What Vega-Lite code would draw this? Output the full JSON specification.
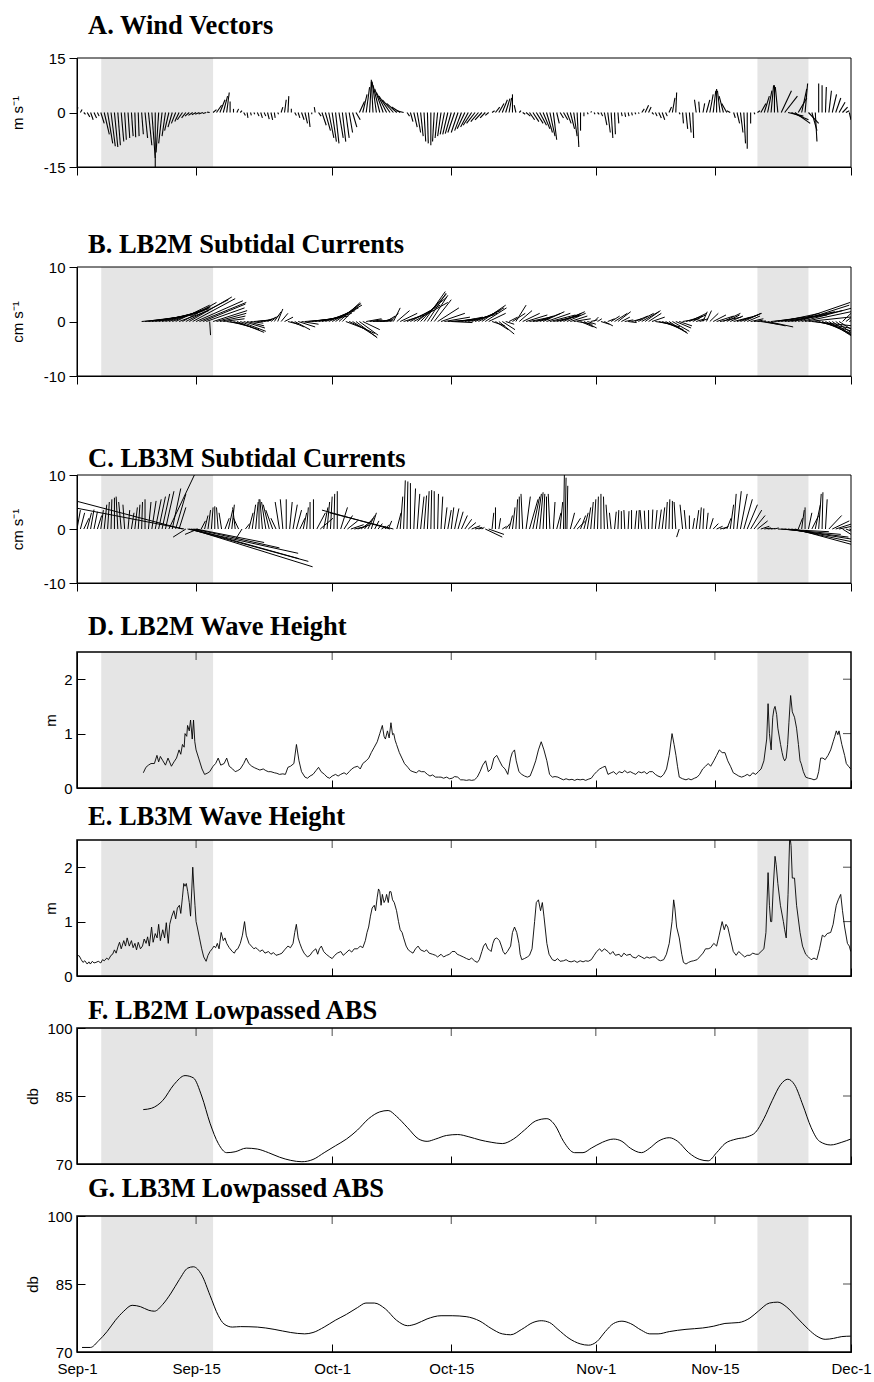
{
"$schema": "https://vega.github.io/schema/vega-lite/v6.json",
"autosize": {"type": "pad"},
"padding": {"left": 10, "top": 12, "right": 3, "bottom": 3},
"bounds": "flush",
"spacing": 52,
"config": {
 "view": {"stroke": null},
 "axis": {"domainColor": "black", "tickColor": "black", "labelColor": "black", "titleColor": "black", "labelFont": "Liberation Sans", "titleFont": "Liberation Sans", "labelFontSize": 15, "titleFontSize": 15, "titleFontWeight": "normal", "grid": false, "domainWidth": 1, "tickWidth": 1, "labelFlush": false, "labelOverlap": false},
 "title": {"font": "Liberation Serif", "fontSize": 26.5, "fontWeight": "bold", "anchor": "start", "color": "black", "frame": "group", "baseline": "alphabetic"},
 "tick": {"thickness": 1}
},
"datasets": {
 "bandA": [{"s": 2.85, "e": 16.0, "lo": -15, "hi": 15}, {"s": 80.0, "e": 86.0, "lo": -15, "hi": 15}],
 "frameA": [{"s": 0, "e": 91, "lo": -15, "hi": 15}],
 "bandC": [{"s": 2.85, "e": 16.0, "lo": -10, "hi": 10}, {"s": 80.0, "e": 86.0, "lo": -10, "hi": 10}],
 "frameC": [{"s": 0, "e": 91, "lo": -10, "hi": 10}],
 "bandW": [{"s": 2.85, "e": 16.0, "lo": 0, "hi": 2.5}, {"s": 80.0, "e": 86.0, "lo": 0, "hi": 2.5}],
 "frameW": [{"s": 0, "e": 91, "lo": 0, "hi": 2.5}],
 "bandS": [{"s": 2.85, "e": 16.0, "lo": 70, "hi": 100}, {"s": 80.0, "e": 86.0, "lo": 70, "hi": 100}],
 "frameS": [{"s": 0, "e": 91, "lo": 70, "hi": 100}],
 "topW": [{"t": 14, "y": 2.5}, {"t": 30, "y": 2.5}, {"t": 44, "y": 2.5}, {"t": 61, "y": 2.5}, {"t": 75, "y": 2.5}],
 "topS": [{"t": 14, "y": 100}, {"t": 30, "y": 100}, {"t": 44, "y": 100}, {"t": 61, "y": 100}, {"t": 75, "y": 100}],
 "rightW": [{"t": 91, "y": 1}, {"t": 91, "y": 2}],
 "rightS": [{"t": 91, "y": 85}],
 "wind": [
{"d":0.0,"e":0.1,"v":1.5},{"d":0.4,"e":0.6,"v":0.8},{"d":0.8,"e":1.0,"v":-0.5},{"d":1.2,"e":1.5,"v":-1.2},{"d":1.6,"e":1.9,"v":-2.0},{"d":2.0,"e":2.3,"v":-1.5},{"d":2.4,"e":2.6,"v":-1.0},{"d":2.8,"e":3.2,"v":-3.0},{"d":3.2,"e":3.8,"v":-6.0},{"d":3.6,"e":4.2,"v":-8.5},{"d":4.0,"e":4.5,"v":-9.3},{"d":4.4,"e":4.8,"v":-9.5},{"d":4.8,"e":5.1,"v":-9.0},{"d":5.2,"e":5.5,"v":-8.0},{"d":5.6,"e":5.8,"v":-7.5},{"d":6.0,"e":6.2,"v":-7.0},{"d":6.4,"e":6.6,"v":-6.5},{"d":6.8,"e":6.9,"v":-6.8},{"d":7.2,"e":7.3,"v":-6.5},{"d":7.6,"e":7.8,"v":-6.0},{"d":8.0,"e":8.3,"v":-7.0},{"d":8.4,"e":8.8,"v":-9.0},{"d":8.8,"e":9.2,"v":-12.5},{"d":9.2,"e":9.2,"v":-15.0},{"d":9.6,"e":9.3,"v":-11.0},{"d":10.0,"e":9.6,"v":-8.5},{"d":10.4,"e":10.0,"v":-6.5},{"d":10.8,"e":10.3,"v":-5.0},{"d":11.2,"e":10.7,"v":-4.0},{"d":11.6,"e":11.1,"v":-3.0},{"d":12.0,"e":11.5,"v":-2.5},{"d":12.4,"e":11.8,"v":-2.0},{"d":12.8,"e":12.3,"v":-1.5},{"d":13.2,"e":12.7,"v":-1.0},{"d":13.6,"e":13.1,"v":-0.8},{"d":14.0,"e":13.5,"v":-0.6},{"d":14.4,"e":13.9,"v":-0.5},{"d":14.8,"e":14.3,"v":-0.4},{"d":15.2,"e":14.8,"v":-0.3},{"d":15.6,"e":15.3,"v":0.1},{"d":16.0,"e":16.4,"v":0.8},{"d":16.4,"e":17.0,"v":2.0},{"d":16.8,"e":17.4,"v":3.5},{"d":17.2,"e":17.7,"v":4.5},{"d":17.6,"e":17.9,"v":5.5},{"d":18.0,"e":18.0,"v":3.0},{"d":18.4,"e":18.4,"v":1.0},{"d":18.8,"e":19.0,"v":1.0},{"d":19.2,"e":19.4,"v":0.5},{"d":19.6,"e":19.8,"v":-0.8},{"d":20.0,"e":20.1,"v":-1.5},{"d":20.4,"e":20.5,"v":-0.8},{"d":20.8,"e":20.9,"v":-0.5},{"d":21.2,"e":21.4,"v":-1.0},{"d":21.6,"e":21.8,"v":-1.5},{"d":22.0,"e":22.2,"v":-1.0},{"d":22.4,"e":22.6,"v":-1.8},{"d":22.8,"e":23.0,"v":-2.0},{"d":23.2,"e":23.3,"v":-1.5},{"d":23.6,"e":23.7,"v":-0.5},{"d":24.0,"e":24.2,"v":1.5},{"d":24.4,"e":24.6,"v":3.5},{"d":24.8,"e":24.9,"v":4.5},{"d":25.2,"e":25.2,"v":1.0},{"d":25.6,"e":25.8,"v":-0.8},{"d":26.0,"e":26.2,"v":-1.5},{"d":26.4,"e":26.7,"v":-2.0},{"d":26.8,"e":27.1,"v":-3.0},{"d":27.2,"e":27.4,"v":-4.0},{"d":27.6,"e":27.6,"v":-0.5},{"d":28.0,"e":27.9,"v":1.5},{"d":28.4,"e":28.7,"v":-1.0},{"d":28.8,"e":29.3,"v":-3.5},{"d":29.2,"e":29.8,"v":-5.0},{"d":29.6,"e":30.2,"v":-7.0},{"d":30.0,"e":30.5,"v":-8.0},{"d":30.4,"e":30.8,"v":-8.5},{"d":30.8,"e":31.3,"v":-7.0},{"d":31.2,"e":31.6,"v":-8.0},{"d":31.6,"e":32.0,"v":-7.0},{"d":32.0,"e":32.4,"v":-5.5},{"d":32.4,"e":32.9,"v":-4.0},{"d":32.8,"e":33.3,"v":-2.0},{"d":33.2,"e":33.8,"v":3.0},{"d":33.6,"e":34.1,"v":5.0},{"d":34.0,"e":34.4,"v":7.0},{"d":34.4,"e":34.6,"v":8.5},{"d":34.8,"e":34.6,"v":9.0},{"d":35.2,"e":34.7,"v":8.5},{"d":35.6,"e":34.8,"v":7.5},{"d":36.0,"e":35.0,"v":6.5},{"d":36.4,"e":35.2,"v":5.5},{"d":36.8,"e":35.5,"v":4.5},{"d":37.2,"e":35.9,"v":3.5},{"d":37.6,"e":36.4,"v":2.5},{"d":38.0,"e":37.0,"v":1.5},{"d":38.4,"e":37.6,"v":0.5},{"d":38.8,"e":39.1,"v":-1.0},{"d":39.2,"e":39.5,"v":-2.5},{"d":39.6,"e":40.0,"v":-4.0},{"d":40.0,"e":40.4,"v":-5.5},{"d":40.4,"e":40.7,"v":-6.5},{"d":40.8,"e":41.0,"v":-8.0},{"d":41.2,"e":41.3,"v":-8.5},{"d":41.6,"e":41.6,"v":-9.0},{"d":42.0,"e":41.8,"v":-8.0},{"d":42.4,"e":42.1,"v":-7.0},{"d":42.8,"e":42.4,"v":-6.5},{"d":43.2,"e":42.7,"v":-6.0},{"d":43.6,"e":43.0,"v":-6.0},{"d":44.0,"e":43.3,"v":-5.8},{"d":44.4,"e":43.6,"v":-5.5},{"d":44.8,"e":44.0,"v":-5.5},{"d":45.2,"e":44.4,"v":-5.0},{"d":45.6,"e":44.7,"v":-4.5},{"d":46.0,"e":45.1,"v":-4.0},{"d":46.4,"e":45.4,"v":-3.5},{"d":46.8,"e":45.8,"v":-3.0},{"d":47.2,"e":46.3,"v":-2.5},{"d":47.6,"e":46.8,"v":-2.0},{"d":48.0,"e":47.4,"v":-1.5},{"d":48.4,"e":48.0,"v":-0.8},{"d":48.8,"e":49.1,"v":0.5},{"d":49.2,"e":49.7,"v":1.5},{"d":49.6,"e":50.2,"v":2.5},{"d":50.0,"e":50.6,"v":3.5},{"d":50.4,"e":50.9,"v":3.8},{"d":50.8,"e":51.1,"v":4.0},{"d":51.2,"e":51.2,"v":5.0},{"d":51.6,"e":51.4,"v":2.0},{"d":52.0,"e":52.2,"v":0.5},{"d":52.4,"e":52.7,"v":-0.5},{"d":52.8,"e":53.3,"v":-1.0},{"d":53.2,"e":53.8,"v":-2.0},{"d":53.6,"e":54.3,"v":-2.5},{"d":54.0,"e":54.8,"v":-3.0},{"d":54.4,"e":55.2,"v":-3.5},{"d":54.8,"e":55.6,"v":-4.5},{"d":55.2,"e":55.9,"v":-5.5},{"d":55.6,"e":56.2,"v":-6.5},{"d":56.0,"e":56.4,"v":-7.5},{"d":56.4,"e":56.7,"v":-3.0},{"d":56.8,"e":57.2,"v":-1.5},{"d":57.2,"e":57.7,"v":-2.0},{"d":57.6,"e":58.1,"v":-3.0},{"d":58.0,"e":58.5,"v":-4.5},{"d":58.4,"e":58.8,"v":-6.5},{"d":58.8,"e":59.0,"v":-9.5},{"d":59.2,"e":59.2,"v":-5.0},{"d":59.6,"e":59.6,"v":-1.0},{"d":60.0,"e":60.1,"v":-0.5},{"d":60.4,"e":60.5,"v":0.3},{"d":60.8,"e":60.9,"v":-0.5},{"d":61.2,"e":61.4,"v":-0.5},{"d":61.6,"e":61.8,"v":-1.0},{"d":62.0,"e":62.3,"v":-3.5},{"d":62.4,"e":62.7,"v":-5.5},{"d":62.8,"e":63.0,"v":-7.0},{"d":63.2,"e":63.3,"v":-6.0},{"d":63.6,"e":63.7,"v":-3.0},{"d":64.0,"e":64.1,"v":-1.0},{"d":64.4,"e":64.5,"v":-1.2},{"d":64.8,"e":64.9,"v":-1.0},{"d":65.2,"e":65.3,"v":-0.8},{"d":65.6,"e":65.7,"v":-0.5},{"d":66.0,"e":66.1,"v":-0.3},{"d":66.4,"e":66.7,"v":1.0},{"d":66.8,"e":67.2,"v":2.0},{"d":67.2,"e":67.5,"v":1.5},{"d":67.6,"e":67.8,"v":-0.5},{"d":68.0,"e":68.2,"v":-1.0},{"d":68.4,"e":68.7,"v":-1.5},{"d":68.8,"e":69.1,"v":-2.0},{"d":69.2,"e":69.4,"v":-1.0},{"d":69.6,"e":69.9,"v":1.5},{"d":70.0,"e":70.3,"v":4.0},{"d":70.4,"e":70.5,"v":5.5},{"d":70.8,"e":70.9,"v":-0.5},{"d":71.2,"e":71.3,"v":-3.0},{"d":71.6,"e":71.8,"v":-4.5},{"d":72.0,"e":72.2,"v":-5.5},{"d":72.4,"e":72.5,"v":-7.0},{"d":72.8,"e":72.6,"v":3.5},{"d":73.2,"e":73.1,"v":3.0},{"d":73.6,"e":73.8,"v":2.5},{"d":74.0,"e":74.4,"v":3.5},{"d":74.4,"e":74.8,"v":5.0},{"d":74.8,"e":75.1,"v":6.0},{"d":75.2,"e":75.2,"v":6.5},{"d":75.6,"e":75.3,"v":6.0},{"d":76.0,"e":75.5,"v":4.5},{"d":76.4,"e":75.8,"v":2.5},{"d":76.8,"e":76.4,"v":0.5},{"d":77.2,"e":77.4,"v":-1.5},{"d":77.6,"e":77.9,"v":-3.0},{"d":78.0,"e":78.3,"v":-5.5},{"d":78.4,"e":78.6,"v":-8.5},{"d":78.8,"e":78.8,"v":-10.0},{"d":79.2,"e":79.2,"v":-3.0},{"d":79.6,"e":79.7,"v":-0.5},{"d":80.0,"e":80.3,"v":0.5},{"d":80.4,"e":81.0,"v":2.5},{"d":80.8,"e":81.4,"v":4.5},{"d":81.2,"e":81.7,"v":6.0},{"d":81.6,"e":81.9,"v":7.5},{"d":82.0,"e":82.0,"v":7.5},{"d":82.4,"e":82.1,"v":7.0},{"d":82.8,"e":84.0,"v":6.0},{"d":83.2,"e":84.7,"v":4.5},{"d":83.6,"e":85.4,"v":-1.0},{"d":84.0,"e":86.0,"v":-2.0},{"d":84.4,"e":86.2,"v":-3.0},{"d":84.8,"e":85.8,"v":4.0},{"d":85.2,"e":85.8,"v":6.5},{"d":85.6,"e":85.9,"v":8.0},{"d":86.0,"e":87.2,"v":-3.0},{"d":86.4,"e":87.0,"v":-5.0},{"d":86.8,"e":87.0,"v":-8.0},{"d":87.2,"e":87.2,"v":8.0},{"d":87.6,"e":87.6,"v":7.5},{"d":88.0,"e":88.1,"v":7.0},{"d":88.4,"e":88.7,"v":6.0},{"d":88.8,"e":89.3,"v":5.0},{"d":89.2,"e":89.8,"v":4.0},{"d":89.6,"e":90.3,"v":2.8},{"d":90.0,"e":90.6,"v":1.5},{"d":90.4,"e":90.8,"v":0.5},{"d":90.8,"e":91.0,"v":-2.0}
 ],
 "cur2": [
{"d":7.6,"e":11.1,"v":0.5},{"d":8.0,"e":12.0,"v":0.8},{"d":8.4,"e":12.9,"v":1.0},{"d":8.8,"e":13.6,"v":1.2},{"d":9.2,"e":14.2,"v":1.5},{"d":9.6,"e":14.6,"v":1.8},{"d":10.0,"e":15.0,"v":2.0},{"d":10.4,"e":15.4,"v":2.3},{"d":10.8,"e":15.6,"v":2.5},{"d":11.2,"e":15.7,"v":2.7},{"d":11.6,"e":15.6,"v":3.0},{"d":12.0,"e":15.5,"v":2.0},{"d":12.4,"e":16.4,"v":3.5},{"d":12.8,"e":17.8,"v":4.0},{"d":13.2,"e":18.2,"v":4.5},{"d":13.6,"e":18.6,"v":4.2},{"d":14.0,"e":19.5,"v":3.8},{"d":14.4,"e":19.9,"v":3.5},{"d":14.8,"e":19.8,"v":3.2},{"d":15.2,"e":19.7,"v":2.5},{"d":15.6,"e":15.7,"v":-2.5},{"d":16.0,"e":20.0,"v":2.0},{"d":16.4,"e":19.9,"v":1.5},{"d":16.8,"e":19.8,"v":1.0},{"d":17.2,"e":19.7,"v":0.5},{"d":17.6,"e":19.6,"v":-0.5},{"d":18.0,"e":20.5,"v":-1.0},{"d":18.4,"e":21.4,"v":-1.5},{"d":18.8,"e":22.0,"v":-2.0},{"d":19.2,"e":22.2,"v":-1.8},{"d":19.6,"e":22.1,"v":-1.2},{"d":20.0,"e":22.0,"v":-0.8},{"d":20.4,"e":21.9,"v":-0.3},{"d":20.8,"e":22.3,"v":0.2},{"d":21.2,"e":22.7,"v":0.3},{"d":21.6,"e":22.8,"v":0.2},{"d":22.0,"e":23.0,"v":0.5},{"d":22.4,"e":23.4,"v":0.8},{"d":22.8,"e":23.8,"v":1.2},{"d":23.2,"e":24.0,"v":1.8},{"d":23.6,"e":24.2,"v":2.3},{"d":24.0,"e":24.8,"v":1.5},{"d":24.4,"e":25.4,"v":0.8},{"d":24.8,"e":26.0,"v":-0.5},{"d":25.2,"e":26.7,"v":-1.0},{"d":25.6,"e":27.4,"v":-1.5},{"d":26.0,"e":28.0,"v":-1.0},{"d":26.4,"e":28.4,"v":-0.5},{"d":26.8,"e":29.3,"v":0.3},{"d":27.2,"e":30.2,"v":0.5},{"d":27.6,"e":30.1,"v":0.5},{"d":28.0,"e":31.0,"v":0.8},{"d":28.4,"e":31.9,"v":1.0},{"d":28.8,"e":32.3,"v":1.5},{"d":29.2,"e":32.7,"v":2.0},{"d":29.6,"e":33.1,"v":2.5},{"d":30.0,"e":33.5,"v":3.0},{"d":30.4,"e":33.4,"v":3.3},{"d":30.8,"e":33.3,"v":3.5},{"d":31.2,"e":33.2,"v":3.2},{"d":31.6,"e":34.1,"v":-1.5},{"d":32.0,"e":35.0,"v":-2.2},{"d":32.4,"e":35.2,"v":-2.8},{"d":32.8,"e":35.3,"v":-3.0},{"d":33.2,"e":35.4,"v":-2.5},{"d":33.6,"e":35.6,"v":-1.5},{"d":34.0,"e":35.8,"v":0.5},{"d":34.4,"e":35.9,"v":0.3},{"d":34.8,"e":36.8,"v":0.2},{"d":35.2,"e":37.2,"v":0.3},{"d":35.6,"e":37.1,"v":0.1},{"d":36.0,"e":37.0,"v":0.5},{"d":36.4,"e":37.4,"v":1.0},{"d":36.8,"e":37.8,"v":1.5},{"d":37.2,"e":38.0,"v":2.5},{"d":37.6,"e":39.1,"v":2.0},{"d":38.0,"e":40.0,"v":1.5},{"d":38.4,"e":40.9,"v":1.2},{"d":38.8,"e":41.8,"v":2.0},{"d":39.2,"e":42.7,"v":3.0},{"d":39.6,"e":43.6,"v":3.5},{"d":40.0,"e":43.5,"v":4.5},{"d":40.4,"e":43.4,"v":5.0},{"d":40.8,"e":43.3,"v":5.5},{"d":41.2,"e":43.4,"v":5.2},{"d":41.6,"e":43.6,"v":4.8},{"d":42.0,"e":44.0,"v":4.0},{"d":42.4,"e":44.9,"v":2.5},{"d":42.8,"e":45.6,"v":1.5},{"d":43.2,"e":46.2,"v":0.8},{"d":43.6,"e":46.4,"v":0.3},{"d":44.0,"e":46.5,"v":-0.2},{"d":44.4,"e":46.4,"v":0.3},{"d":44.8,"e":46.8,"v":0.5},{"d":45.2,"e":47.7,"v":0.8},{"d":45.6,"e":48.6,"v":1.0},{"d":46.0,"e":49.0,"v":1.2},{"d":46.4,"e":49.4,"v":1.5},{"d":46.8,"e":49.8,"v":2.0},{"d":47.2,"e":50.2,"v":2.5},{"d":47.6,"e":50.4,"v":3.0},{"d":48.0,"e":50.5,"v":2.5},{"d":48.4,"e":50.4,"v":1.5},{"d":48.8,"e":50.3,"v":-0.8},{"d":49.2,"e":50.7,"v":-1.5},{"d":49.6,"e":51.4,"v":-2.3},{"d":50.0,"e":51.5,"v":-1.5},{"d":50.4,"e":51.4,"v":-0.5},{"d":50.8,"e":51.8,"v":0.8},{"d":51.2,"e":52.7,"v":1.5},{"d":51.6,"e":52.8,"v":3.0},{"d":52.0,"e":53.5,"v":2.0},{"d":52.4,"e":54.4,"v":1.5},{"d":52.8,"e":55.3,"v":1.2},{"d":53.2,"e":55.7,"v":0.8},{"d":53.6,"e":55.6,"v":0.5},{"d":54.0,"e":56.0,"v":1.0},{"d":54.4,"e":56.9,"v":1.5},{"d":54.8,"e":57.3,"v":1.8},{"d":55.2,"e":58.0,"v":1.5},{"d":55.6,"e":58.6,"v":1.2},{"d":56.0,"e":59.0,"v":1.0},{"d":56.4,"e":59.2,"v":1.2},{"d":56.8,"e":59.3,"v":1.5},{"d":57.2,"e":59.7,"v":1.8},{"d":57.6,"e":59.8,"v":1.5},{"d":58.0,"e":60.0,"v":1.0},{"d":58.4,"e":60.4,"v":0.5},{"d":58.8,"e":60.6,"v":-0.5},{"d":59.2,"e":60.7,"v":-1.0},{"d":59.6,"e":61.1,"v":-1.2},{"d":60.0,"e":61.0,"v":-0.5},{"d":60.4,"e":61.2,"v":0.3},{"d":60.8,"e":61.3,"v":0.8},{"d":61.2,"e":61.7,"v":0.5},{"d":61.6,"e":62.6,"v":-0.5},{"d":62.0,"e":63.0,"v":-0.8},{"d":62.4,"e":63.2,"v":0.5},{"d":62.8,"e":63.8,"v":1.0},{"d":63.2,"e":64.7,"v":1.5},{"d":63.6,"e":65.1,"v":1.8},{"d":64.0,"e":65.0,"v":0.8},{"d":64.4,"e":65.4,"v":0.3},{"d":64.8,"e":65.8,"v":-0.2},{"d":65.2,"e":66.4,"v":0.5},{"d":65.6,"e":67.1,"v":1.0},{"d":66.0,"e":67.8,"v":1.5},{"d":66.4,"e":68.4,"v":1.8},{"d":66.8,"e":68.6,"v":2.0},{"d":67.2,"e":68.7,"v":1.5},{"d":67.6,"e":69.1,"v":0.8},{"d":68.0,"e":70.0,"v":-0.5},{"d":68.4,"e":70.9,"v":-1.0},{"d":68.8,"e":71.3,"v":-1.5},{"d":69.2,"e":71.7,"v":-2.0},{"d":69.6,"e":71.8,"v":-2.2},{"d":70.0,"e":72.0,"v":-1.8},{"d":70.4,"e":72.2,"v":-1.2},{"d":70.8,"e":72.3,"v":-0.8},{"d":71.2,"e":73.2,"v":0.5},{"d":71.6,"e":73.6,"v":1.0},{"d":72.0,"e":74.0,"v":1.5},{"d":72.4,"e":73.9,"v":1.2},{"d":72.8,"e":73.8,"v":0.5},{"d":73.2,"e":74.2,"v":0.5},{"d":73.6,"e":74.1,"v":1.8},{"d":74.0,"e":74.6,"v":2.0},{"d":74.4,"e":75.4,"v":1.5},{"d":74.8,"e":76.3,"v":1.2},{"d":75.2,"e":77.2,"v":1.0},{"d":75.6,"e":78.1,"v":0.8},{"d":76.0,"e":78.0,"v":1.5},{"d":76.4,"e":77.9,"v":1.2},{"d":76.8,"e":78.3,"v":1.0},{"d":77.2,"e":79.2,"v":0.8},{"d":77.6,"e":80.1,"v":1.2},{"d":78.0,"e":80.5,"v":1.5},{"d":78.4,"e":80.4,"v":1.5},{"d":78.8,"e":80.3,"v":1.0},{"d":79.2,"e":80.7,"v":0.5},{"d":79.6,"e":80.6,"v":0.2},{"d":80.0,"e":81.0,"v":0.1},{"d":80.4,"e":82.4,"v":-0.5},{"d":80.8,"e":83.3,"v":-0.8},{"d":81.2,"e":84.2,"v":-1.0},{"d":81.6,"e":84.6,"v":0.5},{"d":82.0,"e":85.5,"v":0.8},{"d":82.4,"e":86.4,"v":1.0},{"d":82.8,"e":87.3,"v":1.5},{"d":83.2,"e":88.2,"v":1.2},{"d":83.6,"e":89.1,"v":1.8},{"d":84.0,"e":90.0,"v":2.0},{"d":84.4,"e":90.9,"v":3.5},{"d":84.8,"e":90.8,"v":3.0},{"d":85.2,"e":91.2,"v":2.5},{"d":85.6,"e":91.6,"v":2.0},{"d":86.0,"e":92.0,"v":1.0},{"d":86.4,"e":92.4,"v":-1.0},{"d":86.8,"e":92.8,"v":-1.8},{"d":87.2,"e":92.7,"v":-2.5},{"d":87.6,"e":92.6,"v":-3.2},{"d":88.0,"e":93.0,"v":-4.0},{"d":88.4,"e":93.4,"v":-5.0},{"d":88.8,"e":93.3,"v":-5.0},{"d":89.2,"e":93.2,"v":-4.5},{"d":89.6,"e":93.1,"v":-3.5},{"d":90.0,"e":93.0,"v":4.5},{"d":90.4,"e":93.4,"v":3.5},{"d":90.8,"e":93.3,"v":2.0}
 ],
 "cur3": [
{"d":0.0,"e":0.4,"v":3.5},{"d":0.4,"e":0.9,"v":3.0},{"d":0.8,"e":1.4,"v":2.0},{"d":1.2,"e":1.7,"v":3.0},{"d":1.6,"e":2.0,"v":3.6},{"d":2.0,"e":2.4,"v":3.2},{"d":2.4,"e":2.9,"v":2.5},{"d":2.8,"e":3.1,"v":3.5},{"d":3.2,"e":3.5,"v":4.5},{"d":3.6,"e":3.8,"v":5.0},{"d":4.0,"e":4.1,"v":5.5},{"d":4.4,"e":4.4,"v":5.8},{"d":4.8,"e":4.6,"v":6.0},{"d":5.2,"e":4.9,"v":5.0},{"d":5.6,"e":5.4,"v":4.5},{"d":6.0,"e":6.2,"v":3.5},{"d":6.4,"e":6.7,"v":3.0},{"d":6.8,"e":7.1,"v":4.0},{"d":7.2,"e":7.4,"v":4.5},{"d":7.6,"e":7.7,"v":5.0},{"d":8.0,"e":8.0,"v":5.5},{"d":8.4,"e":8.7,"v":5.0},{"d":8.8,"e":9.3,"v":5.2},{"d":9.2,"e":9.9,"v":5.5},{"d":9.6,"e":10.4,"v":6.0},{"d":10.0,"e":10.9,"v":6.5},{"d":10.4,"e":11.4,"v":7.0},{"d":10.8,"e":13.8,"v":10.0},{"d":11.2,"e":12.2,"v":7.5},{"d":11.6,"e":12.8,"v":6.5},{"d":12.0,"e":12.8,"v":4.0},{"d":12.4,"e":-2.1,"v":6.0},{"d":12.6,"e":-0.5,"v":4.0},{"d":12.8,"e":11.3,"v":-1.5},{"d":13.0,"e":26.0,"v":-4.5},{"d":13.2,"e":27.2,"v":-6.0},{"d":13.4,"e":27.7,"v":-7.0},{"d":13.6,"e":26.1,"v":-5.5},{"d":13.8,"e":23.8,"v":-3.5},{"d":14.0,"e":22.0,"v":-2.5},{"d":14.2,"e":12.7,"v":-1.0},{"d":14.6,"e":15.1,"v":1.5},{"d":15.0,"e":15.4,"v":2.5},{"d":15.4,"e":15.7,"v":3.5},{"d":15.8,"e":16.0,"v":4.0},{"d":16.2,"e":16.2,"v":4.2},{"d":16.6,"e":16.4,"v":4.0},{"d":17.0,"e":16.7,"v":3.0},{"d":17.4,"e":17.9,"v":2.0},{"d":17.8,"e":18.3,"v":3.5},{"d":18.2,"e":18.5,"v":4.5},{"d":18.6,"e":18.3,"v":4.0},{"d":19.0,"e":18.4,"v":2.0},{"d":19.4,"e":18.6,"v":-2.0},{"d":19.8,"e":20.3,"v":1.0},{"d":20.2,"e":20.7,"v":3.0},{"d":20.6,"e":21.0,"v":4.5},{"d":21.0,"e":21.3,"v":5.0},{"d":21.4,"e":21.4,"v":5.5},{"d":21.8,"e":21.5,"v":5.5},{"d":22.2,"e":21.7,"v":5.0},{"d":22.6,"e":21.9,"v":4.5},{"d":23.0,"e":22.2,"v":3.5},{"d":23.4,"e":22.8,"v":2.0},{"d":23.8,"e":23.3,"v":5.0},{"d":24.2,"e":23.9,"v":5.5},{"d":24.6,"e":24.6,"v":5.5},{"d":25.0,"e":25.3,"v":5.0},{"d":25.4,"e":25.9,"v":4.5},{"d":25.8,"e":26.4,"v":3.5},{"d":26.2,"e":26.8,"v":2.0},{"d":26.6,"e":27.0,"v":3.0},{"d":27.0,"e":27.2,"v":4.0},{"d":27.4,"e":27.4,"v":5.0},{"d":27.8,"e":27.8,"v":5.5},{"d":28.2,"e":29.2,"v":3.0},{"d":28.6,"e":30.1,"v":2.0},{"d":29.0,"e":29.5,"v":4.0},{"d":29.4,"e":29.7,"v":5.0},{"d":29.8,"e":30.0,"v":6.0},{"d":30.2,"e":30.3,"v":6.5},{"d":30.6,"e":30.6,"v":7.0},{"d":31.0,"e":31.8,"v":4.0},{"d":31.4,"e":32.4,"v":2.5},{"d":31.8,"e":33.0,"v":1.5},{"d":32.2,"e":33.7,"v":0.8},{"d":32.6,"e":34.1,"v":0.5},{"d":33.0,"e":34.5,"v":0.8},{"d":33.4,"e":34.6,"v":1.5},{"d":33.8,"e":34.8,"v":2.0},{"d":34.2,"e":35.0,"v":2.5},{"d":34.6,"e":35.2,"v":3.0},{"d":35.0,"e":35.5,"v":1.5},{"d":35.4,"e":35.9,"v":1.0},{"d":35.8,"e":36.3,"v":0.5},{"d":36.2,"e":36.7,"v":0.8},{"d":36.6,"e":37.0,"v":1.5},{"d":36.8,"e":28.8,"v":3.5},{"d":37.2,"e":29.7,"v":3.0},{"d":37.6,"e":38.1,"v":3.0},{"d":38.0,"e":38.3,"v":6.0},{"d":38.4,"e":38.6,"v":9.0},{"d":38.8,"e":38.9,"v":8.8},{"d":39.2,"e":39.2,"v":8.5},{"d":39.6,"e":39.8,"v":7.5},{"d":40.0,"e":40.3,"v":6.5},{"d":40.4,"e":40.8,"v":6.0},{"d":40.8,"e":41.1,"v":6.2},{"d":41.2,"e":41.4,"v":7.0},{"d":41.6,"e":41.7,"v":7.2},{"d":42.0,"e":42.0,"v":7.0},{"d":42.4,"e":42.5,"v":6.5},{"d":42.8,"e":43.0,"v":6.0},{"d":43.2,"e":43.5,"v":4.0},{"d":43.6,"e":44.0,"v":3.5},{"d":44.0,"e":44.3,"v":4.0},{"d":44.4,"e":44.9,"v":3.8},{"d":44.8,"e":45.4,"v":3.2},{"d":45.2,"e":45.9,"v":2.5},{"d":45.6,"e":46.4,"v":1.8},{"d":46.0,"e":46.9,"v":1.2},{"d":46.4,"e":47.4,"v":0.6},{"d":46.8,"e":47.6,"v":0.3},{"d":47.2,"e":47.7,"v":0.2},{"d":47.6,"e":47.9,"v":0.3},{"d":48.0,"e":50.0,"v":-1.5},{"d":48.4,"e":50.2,"v":-1.0},{"d":48.8,"e":49.0,"v":3.0},{"d":49.2,"e":49.2,"v":4.0},{"d":49.6,"e":49.8,"v":2.0},{"d":50.0,"e":50.5,"v":0.5},{"d":50.4,"e":50.9,"v":1.0},{"d":50.8,"e":51.2,"v":2.5},{"d":51.2,"e":51.5,"v":4.0},{"d":51.6,"e":51.8,"v":5.5},{"d":52.0,"e":52.0,"v":6.0},{"d":52.4,"e":52.2,"v":6.5},{"d":52.8,"e":53.3,"v":6.0},{"d":53.2,"e":54.2,"v":5.5},{"d":53.6,"e":54.4,"v":6.0},{"d":54.0,"e":54.6,"v":6.5},{"d":54.4,"e":54.8,"v":6.8},{"d":54.8,"e":55.0,"v":6.5},{"d":55.2,"e":55.2,"v":6.0},{"d":55.6,"e":55.4,"v":6.5},{"d":56.0,"e":56.2,"v":5.0},{"d":56.4,"e":56.9,"v":3.0},{"d":56.8,"e":57.1,"v":5.0},{"d":57.2,"e":57.3,"v":10.0},{"d":57.4,"e":57.5,"v":9.5},{"d":57.6,"e":57.7,"v":8.0},{"d":58.0,"e":58.5,"v":3.0},{"d":58.4,"e":59.2,"v":2.0},{"d":58.8,"e":59.8,"v":1.5},{"d":59.2,"e":59.8,"v":2.5},{"d":59.6,"e":60.1,"v":3.0},{"d":60.0,"e":60.4,"v":4.0},{"d":60.4,"e":60.7,"v":5.0},{"d":60.8,"e":61.0,"v":5.5},{"d":61.2,"e":61.3,"v":6.0},{"d":61.6,"e":61.6,"v":6.5},{"d":62.0,"e":61.9,"v":6.0},{"d":62.4,"e":62.2,"v":4.5},{"d":62.8,"e":62.6,"v":3.0},{"d":63.2,"e":63.4,"v":3.2},{"d":63.6,"e":63.7,"v":3.5},{"d":64.0,"e":64.0,"v":3.3},{"d":64.4,"e":64.3,"v":3.5},{"d":64.8,"e":64.9,"v":3.3},{"d":65.2,"e":65.2,"v":3.5},{"d":65.6,"e":65.8,"v":3.4},{"d":66.0,"e":66.1,"v":3.5},{"d":66.4,"e":66.2,"v":3.5},{"d":66.8,"e":66.7,"v":3.4},{"d":67.2,"e":67.2,"v":3.5},{"d":67.6,"e":67.7,"v":3.6},{"d":68.0,"e":68.2,"v":3.5},{"d":68.4,"e":68.7,"v":3.6},{"d":68.8,"e":69.1,"v":4.0},{"d":69.2,"e":69.4,"v":5.0},{"d":69.6,"e":69.7,"v":5.5},{"d":70.0,"e":70.0,"v":5.2},{"d":70.4,"e":70.2,"v":5.0},{"d":70.8,"e":70.5,"v":-1.5},{"d":71.2,"e":70.9,"v":4.5},{"d":71.6,"e":71.4,"v":3.5},{"d":72.0,"e":72.0,"v":2.5},{"d":72.4,"e":72.6,"v":2.0},{"d":72.8,"e":73.1,"v":3.5},{"d":73.2,"e":73.4,"v":4.0},{"d":73.6,"e":73.7,"v":3.8},{"d":74.0,"e":74.2,"v":3.0},{"d":74.4,"e":74.8,"v":2.0},{"d":74.8,"e":75.4,"v":1.0},{"d":75.2,"e":75.9,"v":0.5},{"d":75.6,"e":76.4,"v":0.3},{"d":76.0,"e":76.6,"v":0.5},{"d":76.4,"e":76.9,"v":2.0},{"d":76.8,"e":77.2,"v":4.5},{"d":77.2,"e":77.5,"v":6.5},{"d":77.6,"e":78.1,"v":7.0},{"d":78.0,"e":78.8,"v":6.5},{"d":78.4,"e":79.4,"v":5.5},{"d":78.8,"e":80.0,"v":4.5},{"d":79.2,"e":80.5,"v":3.5},{"d":79.6,"e":80.9,"v":2.5},{"d":80.0,"e":81.2,"v":1.5},{"d":80.4,"e":81.4,"v":0.5},{"d":80.8,"e":81.6,"v":0.2},{"d":81.2,"e":81.8,"v":0.1},{"d":81.6,"e":82.1,"v":0.1},{"d":82.0,"e":82.5,"v":0.2},{"d":82.4,"e":88.4,"v":-0.5},{"d":82.8,"e":89.8,"v":-1.0},{"d":83.2,"e":90.7,"v":-1.5},{"d":83.6,"e":91.6,"v":-2.0},{"d":84.0,"e":91.5,"v":-2.5},{"d":84.4,"e":91.4,"v":-3.0},{"d":84.8,"e":85.3,"v":2.0},{"d":85.2,"e":85.5,"v":3.5},{"d":85.6,"e":85.6,"v":4.0},{"d":86.0,"e":86.4,"v":3.0},{"d":86.4,"e":87.2,"v":2.5},{"d":86.8,"e":87.4,"v":4.5},{"d":87.2,"e":87.5,"v":6.5},{"d":87.6,"e":87.7,"v":6.8},{"d":88.0,"e":88.2,"v":5.5},{"d":88.4,"e":89.9,"v":2.5},{"d":88.8,"e":90.8,"v":1.5},{"d":89.2,"e":91.2,"v":1.0},{"d":89.6,"e":91.1,"v":0.5},{"d":90.0,"e":91.0,"v":-1.0},{"d":90.4,"e":91.2,"v":-0.5},{"d":90.8,"e":91.1,"v":-0.2}
 ],
 "wave2": [
{"d":7.8,"h":0.28},{"d":8.1,"h":0.38},{"d":8.4,"h":0.42},{"d":8.7,"h":0.45},{"d":9.1,"h":0.45},{"d":9.4,"h":0.6},{"d":9.6,"h":0.48},{"d":9.8,"h":0.58},{"d":10.1,"h":0.5},{"d":10.4,"h":0.42},{"d":10.7,"h":0.55},{"d":11.1,"h":0.4},{"d":11.4,"h":0.48},{"d":11.7,"h":0.55},{"d":12.0,"h":0.7},{"d":12.2,"h":0.62},{"d":12.4,"h":0.8},{"d":12.6,"h":0.75},{"d":12.7,"h":1.0},{"d":12.9,"h":0.95},{"d":13.0,"h":1.15},{"d":13.2,"h":1.05},{"d":13.35,"h":1.25},{"d":13.55,"h":0.9},{"d":13.7,"h":1.25},{"d":13.85,"h":0.85},{"d":14.0,"h":0.7},{"d":14.3,"h":0.55},{"d":14.7,"h":0.35},{"d":15.0,"h":0.25},{"d":15.3,"h":0.27},{"d":15.6,"h":0.3},{"d":16.0,"h":0.4},{"d":16.3,"h":0.45},{"d":16.6,"h":0.55},{"d":16.9,"h":0.42},{"d":17.3,"h":0.45},{"d":17.6,"h":0.55},{"d":17.9,"h":0.4},{"d":18.3,"h":0.35},{"d":18.6,"h":0.3},{"d":18.9,"h":0.32},{"d":19.2,"h":0.35},{"d":19.6,"h":0.45},{"d":19.9,"h":0.55},{"d":20.2,"h":0.45},{"d":20.55,"h":0.4},{"d":20.9,"h":0.37},{"d":21.2,"h":0.35},{"d":21.5,"h":0.33},{"d":21.9,"h":0.35},{"d":22.2,"h":0.32},{"d":22.5,"h":0.3},{"d":22.8,"h":0.3},{"d":23.2,"h":0.28},{"d":23.5,"h":0.27},{"d":23.8,"h":0.25},{"d":24.2,"h":0.26},{"d":24.5,"h":0.25},{"d":24.8,"h":0.38},{"d":25.1,"h":0.4},{"d":25.5,"h":0.45},{"d":25.8,"h":0.8},{"d":26.1,"h":0.5},{"d":26.4,"h":0.3},{"d":26.8,"h":0.2},{"d":27.1,"h":0.18},{"d":27.4,"h":0.22},{"d":27.75,"h":0.25},{"d":28.1,"h":0.32},{"d":28.4,"h":0.38},{"d":28.7,"h":0.3},{"d":29.1,"h":0.25},{"d":29.4,"h":0.2},{"d":29.7,"h":0.18},{"d":30.0,"h":0.22},{"d":30.4,"h":0.25},{"d":30.7,"h":0.22},{"d":31.0,"h":0.25},{"d":31.4,"h":0.28},{"d":31.7,"h":0.25},{"d":32.0,"h":0.3},{"d":32.3,"h":0.35},{"d":32.6,"h":0.38},{"d":33.0,"h":0.4},{"d":33.3,"h":0.35},{"d":33.6,"h":0.45},{"d":34.0,"h":0.5},{"d":34.3,"h":0.55},{"d":34.6,"h":0.65},{"d":34.95,"h":0.75},{"d":35.3,"h":0.85},{"d":35.6,"h":1.0},{"d":35.9,"h":1.15},{"d":36.1,"h":0.95},{"d":36.26,"h":0.9},{"d":36.5,"h":1.05},{"d":36.7,"h":0.92},{"d":36.91,"h":1.2},{"d":37.1,"h":0.98},{"d":37.24,"h":1.0},{"d":37.4,"h":0.88},{"d":37.57,"h":0.8},{"d":37.9,"h":0.65},{"d":38.2,"h":0.55},{"d":38.5,"h":0.45},{"d":38.9,"h":0.38},{"d":39.2,"h":0.32},{"d":39.5,"h":0.3},{"d":39.9,"h":0.28},{"d":40.2,"h":0.32},{"d":40.5,"h":0.3},{"d":40.84,"h":0.3},{"d":41.2,"h":0.25},{"d":41.5,"h":0.22},{"d":41.8,"h":0.24},{"d":42.15,"h":0.2},{"d":42.5,"h":0.2},{"d":42.8,"h":0.2},{"d":43.1,"h":0.18},{"d":43.46,"h":0.2},{"d":43.8,"h":0.17},{"d":44.11,"h":0.18},{"d":44.4,"h":0.21},{"d":44.76,"h":0.2},{"d":45.1,"h":0.15},{"d":45.42,"h":0.15},{"d":45.8,"h":0.14},{"d":46.1,"h":0.15},{"d":46.4,"h":0.14},{"d":46.73,"h":0.15},{"d":47.06,"h":0.2},{"d":47.38,"h":0.3},{"d":47.7,"h":0.42},{"d":48.04,"h":0.5},{"d":48.36,"h":0.3},{"d":48.69,"h":0.35},{"d":49.02,"h":0.55},{"d":49.35,"h":0.6},{"d":49.67,"h":0.5},{"d":50.0,"h":0.4},{"d":50.33,"h":0.35},{"d":50.65,"h":0.25},{"d":50.98,"h":0.55},{"d":51.18,"h":0.65},{"d":51.44,"h":0.7},{"d":51.64,"h":0.5},{"d":51.96,"h":0.3},{"d":52.29,"h":0.25},{"d":52.62,"h":0.22},{"d":52.95,"h":0.2},{"d":53.27,"h":0.22},{"d":53.6,"h":0.35},{"d":53.93,"h":0.5},{"d":54.25,"h":0.7},{"d":54.58,"h":0.85},{"d":54.9,"h":0.7},{"d":55.24,"h":0.5},{"d":55.56,"h":0.25},{"d":55.89,"h":0.2},{"d":56.2,"h":0.21},{"d":56.54,"h":0.2},{"d":56.9,"h":0.17},{"d":57.2,"h":0.15},{"d":57.5,"h":0.17},{"d":57.85,"h":0.15},{"d":58.2,"h":0.16},{"d":58.51,"h":0.14},{"d":58.8,"h":0.16},{"d":59.16,"h":0.15},{"d":59.5,"h":0.16},{"d":59.8,"h":0.14},{"d":60.1,"h":0.16},{"d":60.47,"h":0.18},{"d":60.8,"h":0.25},{"d":61.1,"h":0.3},{"d":61.45,"h":0.35},{"d":61.8,"h":0.38},{"d":62.11,"h":0.4},{"d":62.43,"h":0.25},{"d":62.8,"h":0.28},{"d":63.1,"h":0.3},{"d":63.4,"h":0.25},{"d":63.74,"h":0.3},{"d":64.1,"h":0.28},{"d":64.4,"h":0.32},{"d":64.7,"h":0.28},{"d":65.05,"h":0.3},{"d":65.4,"h":0.27},{"d":65.7,"h":0.25},{"d":66.0,"h":0.3},{"d":66.36,"h":0.28},{"d":66.7,"h":0.3},{"d":67.0,"h":0.26},{"d":67.3,"h":0.3},{"d":67.67,"h":0.3},{"d":68.0,"h":0.25},{"d":68.3,"h":0.22},{"d":68.65,"h":0.2},{"d":68.98,"h":0.25},{"d":69.31,"h":0.35},{"d":69.63,"h":0.6},{"d":69.96,"h":1.0},{"d":70.2,"h":0.8},{"d":70.42,"h":0.6},{"d":70.6,"h":0.4},{"d":70.81,"h":0.2},{"d":71.2,"h":0.17},{"d":71.6,"h":0.15},{"d":71.9,"h":0.17},{"d":72.2,"h":0.15},{"d":72.6,"h":0.18},{"d":72.91,"h":0.2},{"d":73.2,"h":0.25},{"d":73.56,"h":0.35},{"d":73.9,"h":0.4},{"d":74.21,"h":0.45},{"d":74.5,"h":0.4},{"d":74.87,"h":0.5},{"d":75.2,"h":0.6},{"d":75.52,"h":0.7},{"d":75.85,"h":0.65},{"d":76.18,"h":0.65},{"d":76.51,"h":0.5},{"d":76.83,"h":0.4},{"d":77.16,"h":0.28},{"d":77.49,"h":0.25},{"d":77.8,"h":0.22},{"d":78.14,"h":0.2},{"d":78.47,"h":0.22},{"d":78.8,"h":0.25},{"d":79.12,"h":0.22},{"d":79.45,"h":0.28},{"d":79.8,"h":0.25},{"d":80.1,"h":0.3},{"d":80.43,"h":0.35},{"d":80.76,"h":0.5},{"d":81.09,"h":0.9},{"d":81.25,"h":1.55},{"d":81.41,"h":1.0},{"d":81.61,"h":0.7},{"d":81.8,"h":1.3},{"d":81.94,"h":1.45},{"d":82.07,"h":1.5},{"d":82.26,"h":1.35},{"d":82.4,"h":1.1},{"d":82.72,"h":0.8},{"d":82.9,"h":0.65},{"d":83.05,"h":0.55},{"d":83.2,"h":0.5},{"d":83.38,"h":0.55},{"d":83.55,"h":0.8},{"d":83.7,"h":1.2},{"d":83.9,"h":1.7},{"d":84.1,"h":1.4},{"d":84.36,"h":1.3},{"d":84.6,"h":1.1},{"d":84.82,"h":0.8},{"d":85.01,"h":0.5},{"d":85.14,"h":0.45},{"d":85.4,"h":0.3},{"d":85.67,"h":0.2},{"d":86.0,"h":0.18},{"d":86.32,"h":0.17},{"d":86.65,"h":0.15},{"d":86.98,"h":0.17},{"d":87.2,"h":0.3},{"d":87.43,"h":0.55},{"d":87.7,"h":0.55},{"d":87.96,"h":0.52},{"d":88.3,"h":0.6},{"d":88.61,"h":0.7},{"d":88.9,"h":0.85},{"d":89.1,"h":0.95},{"d":89.27,"h":1.05},{"d":89.45,"h":0.98},{"d":89.59,"h":1.05},{"d":89.79,"h":0.9},{"d":89.92,"h":0.8},{"d":90.25,"h":0.6},{"d":90.45,"h":0.45},{"d":90.7,"h":0.4},{"d":90.97,"h":0.35}
 ],
 "wave3": [
{"d":0.0,"h":0.38},{"d":0.26,"h":0.37},{"d":0.5,"h":0.3},{"d":0.7,"h":0.25},{"d":0.92,"h":0.28},{"d":1.2,"h":0.22},{"d":1.4,"h":0.26},{"d":1.57,"h":0.22},{"d":1.8,"h":0.27},{"d":2.0,"h":0.24},{"d":2.23,"h":0.25},{"d":2.5,"h":0.27},{"d":2.8,"h":0.24},{"d":3.0,"h":0.3},{"d":3.21,"h":0.28},{"d":3.5,"h":0.33},{"d":3.7,"h":0.3},{"d":4.0,"h":0.38},{"d":4.19,"h":0.4},{"d":4.4,"h":0.48},{"d":4.6,"h":0.42},{"d":4.84,"h":0.55},{"d":5.0,"h":0.62},{"d":5.2,"h":0.5},{"d":5.5,"h":0.65},{"d":5.7,"h":0.55},{"d":5.9,"h":0.7},{"d":6.15,"h":0.55},{"d":6.4,"h":0.65},{"d":6.6,"h":0.52},{"d":6.81,"h":0.6},{"d":7.0,"h":0.48},{"d":7.2,"h":0.62},{"d":7.46,"h":0.5},{"d":7.7,"h":0.55},{"d":7.9,"h":0.68},{"d":8.12,"h":0.6},{"d":8.3,"h":0.72},{"d":8.5,"h":0.55},{"d":8.77,"h":0.9},{"d":8.95,"h":0.62},{"d":9.2,"h":0.78},{"d":9.42,"h":0.7},{"d":9.6,"h":0.95},{"d":9.8,"h":0.65},{"d":10.08,"h":0.85},{"d":10.3,"h":0.7},{"d":10.5,"h":0.98},{"d":10.73,"h":0.6},{"d":10.9,"h":0.95},{"d":11.15,"h":1.1},{"d":11.39,"h":1.2},{"d":11.6,"h":1.05},{"d":11.8,"h":1.25},{"d":12.04,"h":1.3},{"d":12.2,"h":1.15},{"d":12.4,"h":1.45},{"d":12.55,"h":1.7},{"d":12.7,"h":1.65},{"d":12.85,"h":1.7},{"d":13.02,"h":1.55},{"d":13.2,"h":1.35},{"d":13.35,"h":1.1},{"d":13.5,"h":1.6},{"d":13.61,"h":2.0},{"d":13.75,"h":1.6},{"d":13.87,"h":1.3},{"d":14.0,"h":1.0},{"d":14.14,"h":0.9},{"d":14.4,"h":0.7},{"d":14.66,"h":0.5},{"d":14.9,"h":0.35},{"d":15.18,"h":0.27},{"d":15.4,"h":0.38},{"d":15.64,"h":0.45},{"d":15.9,"h":0.5},{"d":16.1,"h":0.55},{"d":16.3,"h":0.52},{"d":16.5,"h":0.6},{"d":16.7,"h":0.5},{"d":16.95,"h":0.8},{"d":17.2,"h":0.65},{"d":17.4,"h":0.7},{"d":17.6,"h":0.6},{"d":17.9,"h":0.52},{"d":18.26,"h":0.45},{"d":18.5,"h":0.42},{"d":18.7,"h":0.48},{"d":18.91,"h":0.5},{"d":19.2,"h":0.6},{"d":19.45,"h":0.75},{"d":19.7,"h":1.0},{"d":19.9,"h":0.75},{"d":20.22,"h":0.6},{"d":20.5,"h":0.55},{"d":20.8,"h":0.5},{"d":21.0,"h":0.52},{"d":21.2,"h":0.5},{"d":21.5,"h":0.45},{"d":21.8,"h":0.48},{"d":22.1,"h":0.42},{"d":22.51,"h":0.45},{"d":22.8,"h":0.4},{"d":23.1,"h":0.43},{"d":23.4,"h":0.38},{"d":23.82,"h":0.4},{"d":24.1,"h":0.42},{"d":24.4,"h":0.48},{"d":24.8,"h":0.55},{"d":25.1,"h":0.52},{"d":25.4,"h":0.6},{"d":25.6,"h":0.8},{"d":25.79,"h":0.95},{"d":26.0,"h":0.7},{"d":26.2,"h":0.6},{"d":26.44,"h":0.5},{"d":26.7,"h":0.42},{"d":27.09,"h":0.35},{"d":27.4,"h":0.38},{"d":27.7,"h":0.45},{"d":28.08,"h":0.5},{"d":28.3,"h":0.4},{"d":28.5,"h":0.5},{"d":28.73,"h":0.55},{"d":29.0,"h":0.45},{"d":29.3,"h":0.4},{"d":29.71,"h":0.35},{"d":30.0,"h":0.32},{"d":30.3,"h":0.38},{"d":30.6,"h":0.42},{"d":31.02,"h":0.45},{"d":31.3,"h":0.38},{"d":31.6,"h":0.42},{"d":32.0,"h":0.48},{"d":32.3,"h":0.44},{"d":32.6,"h":0.5},{"d":32.98,"h":0.5},{"d":33.3,"h":0.55},{"d":33.6,"h":0.52},{"d":33.9,"h":0.65},{"d":34.1,"h":0.8},{"d":34.29,"h":0.9},{"d":34.5,"h":1.1},{"d":34.7,"h":1.25},{"d":34.95,"h":1.3},{"d":35.1,"h":1.2},{"d":35.3,"h":1.45},{"d":35.45,"h":1.6},{"d":35.6,"h":1.55},{"d":35.75,"h":1.3},{"d":35.9,"h":1.5},{"d":36.1,"h":1.35},{"d":36.26,"h":1.4},{"d":36.4,"h":1.5},{"d":36.6,"h":1.35},{"d":36.75,"h":1.55},{"d":36.91,"h":1.55},{"d":37.1,"h":1.4},{"d":37.3,"h":1.35},{"d":37.57,"h":1.2},{"d":37.8,"h":1.0},{"d":38.0,"h":0.85},{"d":38.22,"h":0.8},{"d":38.4,"h":0.7},{"d":38.7,"h":0.55},{"d":38.95,"h":0.48},{"d":39.2,"h":0.45},{"d":39.5,"h":0.42},{"d":39.8,"h":0.5},{"d":40.1,"h":0.55},{"d":40.4,"h":0.48},{"d":40.84,"h":0.45},{"d":41.1,"h":0.48},{"d":41.4,"h":0.42},{"d":41.8,"h":0.4},{"d":42.15,"h":0.38},{"d":42.4,"h":0.35},{"d":42.8,"h":0.4},{"d":43.1,"h":0.35},{"d":43.46,"h":0.38},{"d":43.8,"h":0.4},{"d":44.1,"h":0.45},{"d":44.44,"h":0.45},{"d":44.7,"h":0.4},{"d":45.0,"h":0.38},{"d":45.42,"h":0.35},{"d":45.8,"h":0.32},{"d":46.1,"h":0.3},{"d":46.4,"h":0.33},{"d":46.73,"h":0.28},{"d":47.06,"h":0.25},{"d":47.3,"h":0.3},{"d":47.6,"h":0.45},{"d":47.8,"h":0.55},{"d":48.04,"h":0.6},{"d":48.3,"h":0.5},{"d":48.5,"h":0.48},{"d":48.69,"h":0.45},{"d":48.9,"h":0.6},{"d":49.1,"h":0.68},{"d":49.35,"h":0.7},{"d":49.67,"h":0.65},{"d":49.9,"h":0.55},{"d":50.1,"h":0.45},{"d":50.33,"h":0.4},{"d":50.6,"h":0.45},{"d":50.98,"h":0.55},{"d":51.2,"h":0.8},{"d":51.44,"h":0.9},{"d":51.7,"h":0.8},{"d":51.96,"h":0.6},{"d":52.1,"h":0.4},{"d":52.29,"h":0.3},{"d":52.6,"h":0.32},{"d":52.95,"h":0.35},{"d":53.2,"h":0.38},{"d":53.5,"h":0.5},{"d":53.8,"h":1.0},{"d":54.0,"h":1.35},{"d":54.25,"h":1.4},{"d":54.5,"h":1.2},{"d":54.71,"h":1.35},{"d":54.9,"h":1.1},{"d":55.24,"h":0.6},{"d":55.5,"h":0.4},{"d":55.89,"h":0.3},{"d":56.2,"h":0.28},{"d":56.5,"h":0.32},{"d":56.8,"h":0.27},{"d":57.2,"h":0.28},{"d":57.5,"h":0.3},{"d":57.8,"h":0.27},{"d":58.1,"h":0.26},{"d":58.5,"h":0.28},{"d":58.8,"h":0.25},{"d":59.16,"h":0.28},{"d":59.5,"h":0.26},{"d":59.8,"h":0.28},{"d":60.1,"h":0.27},{"d":60.47,"h":0.3},{"d":60.8,"h":0.38},{"d":61.1,"h":0.45},{"d":61.45,"h":0.5},{"d":61.7,"h":0.45},{"d":62.0,"h":0.5},{"d":62.43,"h":0.45},{"d":62.7,"h":0.4},{"d":63.0,"h":0.45},{"d":63.3,"h":0.38},{"d":63.74,"h":0.4},{"d":64.0,"h":0.35},{"d":64.3,"h":0.42},{"d":64.6,"h":0.38},{"d":65.05,"h":0.4},{"d":65.3,"h":0.35},{"d":65.7,"h":0.33},{"d":66.0,"h":0.38},{"d":66.36,"h":0.35},{"d":66.7,"h":0.32},{"d":67.0,"h":0.35},{"d":67.3,"h":0.33},{"d":67.67,"h":0.35},{"d":68.0,"h":0.35},{"d":68.3,"h":0.3},{"d":68.6,"h":0.28},{"d":68.98,"h":0.3},{"d":69.3,"h":0.4},{"d":69.63,"h":0.6},{"d":69.96,"h":1.0},{"d":70.15,"h":1.4},{"d":70.29,"h":1.25},{"d":70.5,"h":0.9},{"d":70.81,"h":0.7},{"d":71.1,"h":0.4},{"d":71.3,"h":0.25},{"d":71.6,"h":0.22},{"d":71.9,"h":0.25},{"d":72.2,"h":0.27},{"d":72.5,"h":0.28},{"d":72.91,"h":0.3},{"d":73.2,"h":0.35},{"d":73.6,"h":0.42},{"d":73.9,"h":0.5},{"d":74.21,"h":0.5},{"d":74.5,"h":0.52},{"d":74.87,"h":0.6},{"d":75.2,"h":0.55},{"d":75.5,"h":0.75},{"d":75.85,"h":1.0},{"d":76.1,"h":0.85},{"d":76.3,"h":0.95},{"d":76.51,"h":0.9},{"d":76.8,"h":0.7},{"d":77.16,"h":0.45},{"d":77.5,"h":0.38},{"d":77.8,"h":0.45},{"d":78.14,"h":0.4},{"d":78.5,"h":0.35},{"d":78.8,"h":0.38},{"d":79.12,"h":0.38},{"d":79.45,"h":0.42},{"d":79.8,"h":0.4},{"d":80.1,"h":0.4},{"d":80.43,"h":0.45},{"d":80.76,"h":0.5},{"d":81.0,"h":0.8},{"d":81.25,"h":1.9},{"d":81.41,"h":1.3},{"d":81.55,"h":1.0},{"d":81.68,"h":1.0},{"d":81.85,"h":1.6},{"d":82.07,"h":2.2},{"d":82.2,"h":2.05},{"d":82.4,"h":1.7},{"d":82.7,"h":1.3},{"d":83.05,"h":1.0},{"d":83.2,"h":0.85},{"d":83.38,"h":0.7},{"d":83.6,"h":1.5},{"d":83.8,"h":2.6},{"d":83.95,"h":2.4},{"d":84.1,"h":1.8},{"d":84.36,"h":1.8},{"d":84.6,"h":1.3},{"d":85.01,"h":0.8},{"d":85.3,"h":0.55},{"d":85.67,"h":0.4},{"d":86.0,"h":0.35},{"d":86.32,"h":0.3},{"d":86.65,"h":0.33},{"d":86.98,"h":0.3},{"d":87.3,"h":0.5},{"d":87.63,"h":0.75},{"d":87.9,"h":0.72},{"d":88.2,"h":0.78},{"d":88.61,"h":0.8},{"d":88.9,"h":0.95},{"d":89.1,"h":1.15},{"d":89.27,"h":1.3},{"d":89.5,"h":1.4},{"d":89.79,"h":1.5},{"d":90.0,"h":1.2},{"d":90.25,"h":0.9},{"d":90.58,"h":0.6},{"d":90.8,"h":0.55},{"d":90.97,"h":0.45}
 ],
 "abs2": [
{"d":7.79,"h":82.0},{"d":8.77,"h":82.3},{"d":10.08,"h":84.0},{"d":11.39,"h":87.5},{"d":12.7,"h":89.5},{"d":13.68,"h":89.0},{"d":14.66,"h":85.0},{"d":15.64,"h":79.0},{"d":16.62,"h":74.5},{"d":17.6,"h":72.5},{"d":18.59,"h":72.7},{"d":19.9,"h":73.5},{"d":21.2,"h":73.3},{"d":22.51,"h":72.5},{"d":23.82,"h":71.5},{"d":25.13,"h":70.8},{"d":26.44,"h":70.5},{"d":27.75,"h":71.0},{"d":29.06,"h":72.5},{"d":30.37,"h":74.0},{"d":31.68,"h":75.5},{"d":32.98,"h":77.5},{"d":34.29,"h":80.0},{"d":35.6,"h":81.5},{"d":36.58,"h":81.8},{"d":37.57,"h":80.5},{"d":38.87,"h":78.0},{"d":40.18,"h":75.5},{"d":41.16,"h":75.0},{"d":42.15,"h":75.5},{"d":43.46,"h":76.3},{"d":44.76,"h":76.5},{"d":46.07,"h":76.0},{"d":47.38,"h":75.3},{"d":48.69,"h":74.8},{"d":50.0,"h":74.5},{"d":51.31,"h":75.5},{"d":52.62,"h":77.5},{"d":53.93,"h":79.5},{"d":55.24,"h":80.0},{"d":56.22,"h":78.5},{"d":57.2,"h":75.0},{"d":58.51,"h":72.5},{"d":59.49,"h":72.5},{"d":60.47,"h":73.5},{"d":61.78,"h":74.8},{"d":63.09,"h":75.5},{"d":64.07,"h":75.0},{"d":65.05,"h":73.5},{"d":66.36,"h":72.5},{"d":67.34,"h":73.5},{"d":68.32,"h":75.0},{"d":69.63,"h":75.8},{"d":70.62,"h":75.0},{"d":71.92,"h":72.5},{"d":73.23,"h":71.0},{"d":74.21,"h":70.7},{"d":75.2,"h":72.5},{"d":76.18,"h":74.5},{"d":77.49,"h":75.5},{"d":78.8,"h":76.0},{"d":79.78,"h":77.0},{"d":80.76,"h":80.0},{"d":81.74,"h":84.0},{"d":82.72,"h":87.5},{"d":83.57,"h":88.7},{"d":84.36,"h":87.5},{"d":85.34,"h":83.0},{"d":86.32,"h":78.0},{"d":87.3,"h":75.0},{"d":88.61,"h":74.2},{"d":89.92,"h":74.8},{"d":90.97,"h":75.5}
 ],
 "abs3": [
{"d":0.59,"h":71.0},{"d":1.57,"h":71.0},{"d":2.55,"h":72.5},{"d":3.53,"h":74.5},{"d":4.52,"h":77.0},{"d":5.5,"h":79.0},{"d":6.48,"h":80.3},{"d":7.46,"h":80.0},{"d":8.44,"h":79.2},{"d":9.1,"h":79.0},{"d":10.08,"h":80.5},{"d":11.06,"h":83.0},{"d":12.04,"h":86.0},{"d":13.02,"h":88.5},{"d":13.68,"h":88.8},{"d":14.66,"h":87.0},{"d":15.64,"h":82.5},{"d":16.62,"h":78.0},{"d":17.28,"h":76.2},{"d":18.26,"h":75.5},{"d":19.24,"h":75.6},{"d":21.2,"h":75.5},{"d":23.17,"h":75.0},{"d":25.13,"h":74.3},{"d":26.77,"h":74.0},{"d":27.75,"h":74.3},{"d":29.06,"h":75.5},{"d":30.37,"h":77.0},{"d":31.68,"h":78.3},{"d":32.98,"h":79.8},{"d":33.97,"h":80.8},{"d":34.95,"h":80.8},{"d":36.26,"h":79.5},{"d":37.57,"h":77.0},{"d":38.87,"h":75.8},{"d":39.86,"h":76.2},{"d":41.16,"h":77.3},{"d":42.8,"h":78.0},{"d":44.11,"h":78.0},{"d":45.75,"h":77.8},{"d":47.38,"h":76.8},{"d":48.69,"h":75.2},{"d":50.0,"h":74.0},{"d":50.98,"h":73.8},{"d":52.29,"h":75.0},{"d":53.6,"h":76.5},{"d":54.58,"h":76.9},{"d":55.56,"h":76.5},{"d":56.54,"h":75.0},{"d":57.85,"h":73.0},{"d":59.16,"h":71.8},{"d":60.14,"h":71.5},{"d":61.13,"h":72.3},{"d":62.11,"h":74.5},{"d":63.09,"h":76.3},{"d":64.07,"h":76.8},{"d":65.05,"h":76.3},{"d":66.36,"h":74.8},{"d":67.34,"h":74.0},{"d":68.32,"h":74.0},{"d":69.63,"h":74.5},{"d":71.6,"h":75.0},{"d":73.56,"h":75.3},{"d":74.87,"h":75.7},{"d":76.18,"h":76.3},{"d":77.81,"h":76.5},{"d":79.12,"h":77.5},{"d":80.1,"h":79.0},{"d":81.41,"h":80.8},{"d":82.4,"h":81.0},{"d":83.38,"h":80.0},{"d":84.69,"h":77.5},{"d":86.0,"h":75.0},{"d":86.98,"h":73.5},{"d":87.96,"h":72.8},{"d":88.94,"h":73.0},{"d":89.92,"h":73.4},{"d":90.97,"h":73.5}
 ]
},
"vconcat": [
 {
  "width": 774, "height": 157,
  "title": {"text": "A. Wind Vectors", "offset": 12, "dx": 11},
  "layer": [
   {"data": {"name": "bandA"}, "mark": {"type": "rect", "color": "#e5e5e5"},
    "encoding": {
     "x": {"field": "s", "type": "quantitative", "scale": {"domain": [0, 91], "nice": false, "zero": false}, "axis": {"values": [0, 14, 30, 44, 61, 75, 91], "labels": false, "tickSize": 8, "title": null, "offset": -48}},
     "x2": {"field": "e"},
     "y": {"field": "lo", "type": "quantitative", "scale": {"domain": [-15, 15], "range": [109, 0], "nice": false, "zero": false}, "axis": {"values": [-15, 0, 15], "tickSize": 8, "labelPadding": 4, "labelExpr": "'' + datum.value", "title": "m s⁻¹", "titleX": -60, "titleBaseline": "middle"}},
     "y2": {"field": "hi"}
    }},
   {"data": {"name": "wind"}, "mark": {"type": "rule", "color": "black", "strokeWidth": 1.1, "clip": true},
    "encoding": {
     "x": {"field": "e", "type": "quantitative"},
     "x2": {"field": "d"},
     "y": {"field": "v", "type": "quantitative"},
     "y2": {"datum": 0}
    }},
   {"data": {"name": "frameA"}, "mark": {"type": "rect", "filled": false, "color": "black", "strokeWidth": 1},
    "encoding": {
     "x": {"field": "s", "type": "quantitative"},
     "x2": {"field": "e"},
     "y": {"field": "lo", "type": "quantitative"},
     "y2": {"field": "hi"}
    }}
  ]
 },
 {
  "width": 774, "height": 156,
  "title": {"text": "B. LB2M Subtidal Currents", "offset": 2, "dx": 11},
  "layer": [
   {"data": {"name": "bandC"}, "mark": {"type": "rect", "color": "#e5e5e5"},
    "encoding": {
     "x": {"field": "s", "type": "quantitative", "scale": {"domain": [0, 91], "nice": false, "zero": false}, "axis": {"values": [0, 14, 30, 44, 61, 75, 91], "labels": false, "tickSize": 8, "title": null, "offset": -47}},
     "x2": {"field": "e"},
     "y": {"field": "lo", "type": "quantitative", "scale": {"domain": [-10, 10], "range": [109, 0], "nice": false, "zero": false}, "axis": {"values": [-10, 0, 10], "tickSize": 8, "labelPadding": 4, "labelExpr": "'' + datum.value", "title": "cm s⁻¹", "titleX": -60, "titleBaseline": "middle"}},
     "y2": {"field": "hi"}
    }},
   {"data": {"name": "cur2"}, "mark": {"type": "rule", "color": "black", "strokeWidth": 1.0, "clip": true},
    "encoding": {
     "x": {"field": "e", "type": "quantitative"},
     "x2": {"field": "d"},
     "y": {"field": "v", "type": "quantitative"},
     "y2": {"datum": 0}
    }},
   {"data": {"name": "frameC"}, "mark": {"type": "rect", "filled": false, "color": "black", "strokeWidth": 1},
    "encoding": {
     "x": {"field": "s", "type": "quantitative"},
     "x2": {"field": "e"},
     "y": {"field": "lo", "type": "quantitative"},
     "y2": {"field": "hi"}
    }}
  ]
 },
 {
  "width": 774, "height": 125,
  "title": {"text": "C. LB3M Subtidal Currents", "offset": -4, "dx": 11},
  "layer": [
   {"data": {"name": "bandC"}, "mark": {"type": "rect", "color": "#e5e5e5"},
    "encoding": {
     "x": {"field": "s", "type": "quantitative", "scale": {"domain": [0, 91], "nice": false, "zero": false}, "axis": {"values": [0, 14, 30, 44, 61, 75, 91], "labels": false, "tickSize": 8, "title": null, "offset": -17}},
     "x2": {"field": "e"},
     "y": {"field": "lo", "type": "quantitative", "scale": {"domain": [-10, 10], "range": [108, 0], "nice": false, "zero": false}, "axis": {"values": [-10, 0, 10], "tickSize": 8, "labelPadding": 4, "labelExpr": "'' + datum.value", "title": "cm s⁻¹", "titleX": -60, "titleBaseline": "middle"}},
     "y2": {"field": "hi"}
    }},
   {"data": {"name": "cur3"}, "mark": {"type": "rule", "color": "black", "strokeWidth": 1.0, "clip": true},
    "encoding": {
     "x": {"field": "e", "type": "quantitative"},
     "x2": {"field": "d"},
     "y": {"field": "v", "type": "quantitative"},
     "y2": {"datum": 0}
    }},
   {"data": {"name": "frameC"}, "mark": {"type": "rect", "filled": false, "color": "black", "strokeWidth": 1},
    "encoding": {
     "x": {"field": "s", "type": "quantitative"},
     "x2": {"field": "e"},
     "y": {"field": "lo", "type": "quantitative"},
     "y2": {"field": "hi"}
    }}
  ]
 },
 {
  "width": 774, "height": 136,
  "title": {"text": "D. LB2M Wave Height", "offset": 11, "dx": 11},
  "layer": [
   {"data": {"name": "bandW"}, "mark": {"type": "rect", "color": "#e5e5e5"},
    "encoding": {
     "x": {"field": "s", "type": "quantitative", "scale": {"domain": [0, 91], "nice": false, "zero": false}, "axis": {"values": [0, 14, 30, 44, 61, 75, 91], "labels": false, "tickSize": -8, "title": null}},
     "x2": {"field": "e"},
     "y": {"field": "lo", "type": "quantitative", "scale": {"domain": [0, 2.5], "nice": false, "zero": false}, "axis": {"values": [0, 1, 2], "tickSize": -8, "labelPadding": 13, "labelExpr": "'' + datum.value", "title": "m", "titleX": -27, "titleBaseline": "middle"}},
     "y2": {"field": "hi"}
    }},
   {"data": {"name": "wave2"}, "mark": {"type": "line", "color": "black", "strokeWidth": 0.9, "clip": true},
    "encoding": {
     "x": {"field": "d", "type": "quantitative"},
     "y": {"field": "h", "type": "quantitative"}
    }},
   {"data": {"name": "topW"}, "mark": {"type": "tick", "orient": "vertical", "size": 8, "color": "black", "yOffset": 4},
    "encoding": {
     "x": {"field": "t", "type": "quantitative"},
     "y": {"field": "y", "type": "quantitative"}
    }},
   {"data": {"name": "rightW"}, "mark": {"type": "tick", "orient": "horizontal", "size": 8, "color": "black", "xOffset": -4},
    "encoding": {
     "x": {"field": "t", "type": "quantitative"},
     "y": {"field": "y", "type": "quantitative"}
    }},
   {"data": {"name": "frameW"}, "mark": {"type": "rect", "filled": false, "color": "black", "strokeWidth": 1.5},
    "encoding": {
     "x": {"field": "s", "type": "quantitative"},
     "x2": {"field": "e"},
     "y": {"field": "lo", "type": "quantitative"},
     "y2": {"field": "hi"}
    }}
  ]
 },
 {
  "width": 774, "height": 136,
  "title": {"text": "E. LB3M Wave Height", "offset": 9, "dx": 11},
  "layer": [
   {"data": {"name": "bandW"}, "mark": {"type": "rect", "color": "#e5e5e5"},
    "encoding": {
     "x": {"field": "s", "type": "quantitative", "scale": {"domain": [0, 91], "nice": false, "zero": false}, "axis": {"values": [0, 14, 30, 44, 61, 75, 91], "labels": false, "tickSize": -8, "title": null}},
     "x2": {"field": "e"},
     "y": {"field": "lo", "type": "quantitative", "scale": {"domain": [0, 2.5], "nice": false, "zero": false}, "axis": {"values": [0, 1, 2], "tickSize": -8, "labelPadding": 13, "labelExpr": "'' + datum.value", "title": "m", "titleX": -27, "titleBaseline": "middle"}},
     "y2": {"field": "hi"}
    }},
   {"data": {"name": "wave3"}, "mark": {"type": "line", "color": "black", "strokeWidth": 0.9, "clip": true},
    "encoding": {
     "x": {"field": "d", "type": "quantitative"},
     "y": {"field": "h", "type": "quantitative"}
    }},
   {"data": {"name": "topW"}, "mark": {"type": "tick", "orient": "vertical", "size": 8, "color": "black", "yOffset": 4},
    "encoding": {
     "x": {"field": "t", "type": "quantitative"},
     "y": {"field": "y", "type": "quantitative"}
    }},
   {"data": {"name": "rightW"}, "mark": {"type": "tick", "orient": "horizontal", "size": 8, "color": "black", "xOffset": -4},
    "encoding": {
     "x": {"field": "t", "type": "quantitative"},
     "y": {"field": "y", "type": "quantitative"}
    }},
   {"data": {"name": "frameW"}, "mark": {"type": "rect", "filled": false, "color": "black", "strokeWidth": 1.5},
    "encoding": {
     "x": {"field": "s", "type": "quantitative"},
     "x2": {"field": "e"},
     "y": {"field": "lo", "type": "quantitative"},
     "y2": {"field": "hi"}
    }}
  ]
 },
 {
  "width": 774, "height": 136,
  "title": {"text": "F. LB2M Lowpassed ABS", "offset": -3, "dx": 11},
  "layer": [
   {"data": {"name": "bandS"}, "mark": {"type": "rect", "color": "#e5e5e5"},
    "encoding": {
     "x": {"field": "s", "type": "quantitative", "scale": {"domain": [0, 91], "nice": false, "zero": false}, "axis": {"values": [0, 14, 30, 44, 61, 75, 91], "labels": false, "tickSize": -8, "title": null}},
     "x2": {"field": "e"},
     "y": {"field": "lo", "type": "quantitative", "scale": {"domain": [70, 100], "nice": false, "zero": false}, "axis": {"values": [70, 85, 100], "tickSize": -8, "labelPadding": 13, "labelExpr": "'' + datum.value", "title": "db", "titleX": -45, "titleBaseline": "middle"}},
     "y2": {"field": "hi"}
    }},
   {"data": {"name": "abs2"}, "mark": {"type": "line", "color": "black", "strokeWidth": 1, "interpolate": "monotone", "clip": true},
    "encoding": {
     "x": {"field": "d", "type": "quantitative"},
     "y": {"field": "h", "type": "quantitative"}
    }},
   {"data": {"name": "topS"}, "mark": {"type": "tick", "orient": "vertical", "size": 8, "color": "black", "yOffset": 4},
    "encoding": {
     "x": {"field": "t", "type": "quantitative"},
     "y": {"field": "y", "type": "quantitative"}
    }},
   {"data": {"name": "rightS"}, "mark": {"type": "tick", "orient": "horizontal", "size": 8, "color": "black", "xOffset": -4},
    "encoding": {
     "x": {"field": "t", "type": "quantitative"},
     "y": {"field": "y", "type": "quantitative"}
    }},
   {"data": {"name": "frameS"}, "mark": {"type": "rect", "filled": false, "color": "black", "strokeWidth": 1.5},
    "encoding": {
     "x": {"field": "s", "type": "quantitative"},
     "x2": {"field": "e"},
     "y": {"field": "lo", "type": "quantitative"},
     "y2": {"field": "hi"}
    }}
  ]
 },
 {
  "width": 774, "height": 136,
  "title": {"text": "G. LB3M Lowpassed ABS", "offset": 7, "dx": 11},
  "layer": [
   {"data": {"name": "bandS"}, "mark": {"type": "rect", "color": "#e5e5e5"},
    "encoding": {
     "x": {"field": "s", "type": "quantitative", "scale": {"domain": [0, 91], "nice": false, "zero": false}, "axis": {"values": [0, 14, 30, 44, 61, 75, 91], "tickSize": -8, "labelPadding": 17, "title": null, "labelExpr": "datum.value == 0 ? 'Sep-1' : datum.value == 14 ? 'Sep-15' : datum.value == 30 ? 'Oct-1' : datum.value == 44 ? 'Oct-15' : datum.value == 61 ? 'Nov-1' : datum.value == 75 ? 'Nov-15' : 'Dec-1'"}},
     "x2": {"field": "e"},
     "y": {"field": "lo", "type": "quantitative", "scale": {"domain": [70, 100], "nice": false, "zero": false}, "axis": {"values": [70, 85, 100], "tickSize": -8, "labelPadding": 13, "labelExpr": "'' + datum.value", "title": "db", "titleX": -45, "titleBaseline": "middle"}},
     "y2": {"field": "hi"}
    }},
   {"data": {"name": "abs3"}, "mark": {"type": "line", "color": "black", "strokeWidth": 1, "interpolate": "monotone", "clip": true},
    "encoding": {
     "x": {"field": "d", "type": "quantitative"},
     "y": {"field": "h", "type": "quantitative"}
    }},
   {"data": {"name": "topS"}, "mark": {"type": "tick", "orient": "vertical", "size": 8, "color": "black", "yOffset": 4},
    "encoding": {
     "x": {"field": "t", "type": "quantitative"},
     "y": {"field": "y", "type": "quantitative"}
    }},
   {"data": {"name": "rightS"}, "mark": {"type": "tick", "orient": "horizontal", "size": 8, "color": "black", "xOffset": -4},
    "encoding": {
     "x": {"field": "t", "type": "quantitative"},
     "y": {"field": "y", "type": "quantitative"}
    }},
   {"data": {"name": "frameS"}, "mark": {"type": "rect", "filled": false, "color": "black", "strokeWidth": 1.5},
    "encoding": {
     "x": {"field": "s", "type": "quantitative"},
     "x2": {"field": "e"},
     "y": {"field": "lo", "type": "quantitative"},
     "y2": {"field": "hi"}
    }}
  ]
 }
]
}
